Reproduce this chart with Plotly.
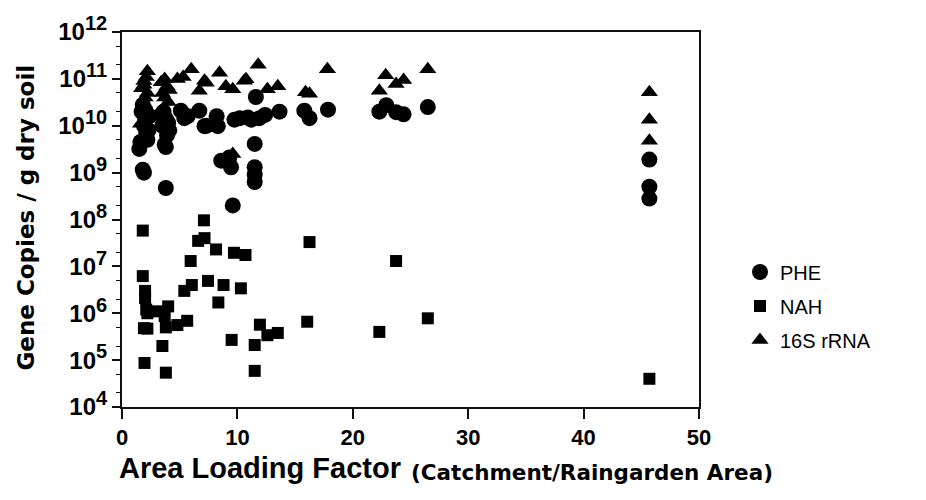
import plotly.graph_objects as go

# Area loading factor (catchment / raingarden area) for each sample, per assay
phe_x = [1.5, 1.8, 1.9, 1.7, 2.0, 1.9, 2.1, 2.2, 1.8, 2.4, 1.6, 2.3, 2.0,
         3.6, 3.8, 3.5, 3.9, 3.7, 3.8, 3.8, 4.0, 3.4, 4.1,
         5.1, 5.4, 5.7, 6.7, 7.15, 7.3, 8.2, 8.3, 8.6, 9.3, 9.45, 9.6,
         9.75, 10.2, 10.9, 11.2, 11.5, 11.5, 11.5, 11.5, 11.6, 11.9, 12.4, 13.65,
         15.8, 16.25, 17.85, 22.3, 22.9, 23.75, 24.4, 26.5, 45.7, 45.7, 45.7]
phe_y = [3.2e9, 1.15e9, 1.0e9, 2.0e10, 1.4e10, 1.0e10, 7.0e9, 5.0e9, 2.8e10, 1.6e10, 4.5e9, 8.0e9, 2.2e10,
         2.0e10, 1.4e10, 1.0e10, 6.3e9, 4.0e9, 3.5e9, 4.7e8, 1.15e10, 1.7e10, 8.0e9,
         2.1e10, 1.45e10, 1.6e10, 2.1e10, 9.8e9, 1.0e10, 1.6e10, 9.8e9, 1.8e9, 2.1e9, 1.3e9, 2.0e8,
         1.35e10, 1.45e10, 1.5e10, 1.35e10, 4.1e9, 1.3e9, 9.0e8, 6.3e8, 4.1e10, 1.45e10, 1.7e10, 2.0e10,
         2.1e10, 1.45e10, 2.2e10, 2.0e10, 2.75e10, 1.95e10, 1.75e10, 2.5e10, 1.9e9, 5.0e8, 2.8e8]

nah_x = [1.8, 1.8, 2.0, 2.0, 2.1, 2.2, 1.9, 2.2, 1.95, 3.05,
         3.5, 3.8, 4.0, 3.7, 3.8, 4.8, 5.65, 5.4, 6.05, 5.95,
         6.6, 7.1, 7.15, 7.45, 8.15, 8.35, 8.8, 9.5, 9.7, 10.3,
         10.7, 11.5, 11.5, 11.95, 12.6, 13.5, 16.05, 16.25, 22.3, 23.75,
         26.5, 45.7]
nah_y = [5.8e7, 6.2e6, 3.0e6, 2.1e6, 1.2e6, 1.0e6, 4.8e5, 4.7e5, 8.7e4, 1.1e6,
         2.0e5, 5.4e4, 1.4e6, 8.7e5, 5.0e5, 5.6e5, 6.9e5, 3.0e6, 4.0e6, 1.3e7,
         3.5e7, 9.6e7, 4.0e7, 4.9e6, 2.3e7, 1.7e6, 4.0e6, 2.7e5, 1.95e7, 3.4e6,
         1.75e7, 2.1e5, 5.9e4, 5.7e5, 3.4e5, 3.8e5, 6.6e5, 3.3e7, 4.0e5, 1.3e7,
         7.8e5, 4.0e4]

rrna_x = [2.2, 1.9, 1.7, 2.0, 1.8, 2.3, 1.6, 2.1, 1.9, 2.2,
          3.7, 3.9, 3.5, 4.0, 3.6, 3.8, 3.4, 4.1, 3.7,
          4.8, 5.3, 6.0, 6.7, 7.15, 7.3, 8.45, 9.0, 9.6, 9.6,
          10.6, 10.75, 11.8, 12.6, 13.5, 15.9, 16.25, 17.8,
          22.3, 22.85, 23.75, 24.4, 26.5, 45.7, 45.7, 45.7]
rrna_y = [1.45e11, 9.0e10, 6.3e10, 4.0e10, 2.5e10, 1.8e10, 1.1e10, 1.1e11, 7.5e10, 5.0e10,
          1.0e11, 7.0e10, 5.0e10, 3.2e10, 2.0e10, 1.25e10, 8.5e10, 5.8e10, 4.0e10,
          1.0e11, 1.1e11, 1.6e11, 5.6e10, 9.1e10, 8.3e10, 1.35e11, 7.0e10, 6.0e10, 2.5e9,
          9.1e10, 9.8e10, 2.0e11, 6.0e10, 7.0e10, 5.2e10, 4.8e10, 1.6e11,
          5.6e10, 1.2e11, 7.8e10, 9.5e10, 1.6e11, 5.2e10, 1.35e10, 4.8e9]

x_ticks = [0, 10, 20, 30, 40, 50]
y_exponents = list(range(4, 13))

fig = go.Figure()
series = [
    ("PHE", phe_x, phe_y, "circle", 16),
    ("NAH", nah_x, nah_y, "square", 12),
    ("16S rRNA", rrna_x, rrna_y, "triangle-up", 15),
]
for name, xs, ys, sym, size in series:
    fig.add_trace(go.Scatter(
        x=xs, y=ys, mode="markers", name=name, legendgroup=name,
        marker=dict(symbol=sym, size=size, color="black", line=dict(width=0)),
    ))

axis_line = dict(showline=True, linewidth=2, linecolor="#111", mirror=True,
                 showgrid=False, zeroline=False, ticks="outside", tickcolor="#111",
                 tickwidth=2)

fig.update_xaxes(
    range=[0, 50], tickvals=x_ticks, ticktext=[f"<b>{v}</b>" for v in x_ticks],
    ticklen=10, tickfont=dict(family="Liberation Sans", size=22, color="black"),
    **axis_line,
)
fig.update_yaxes(
    type="log", range=[4, 12],
    tickvals=[10 ** e for e in y_exponents],
    ticktext=[f"<b>10<sup><span style='font-size:20px'>{e}</span></sup></b>"
              for e in y_exponents],
    ticklen=8,
    tickfont=dict(family="Liberation Sans", size=24, color="black"),
    minor=dict(ticks="outside", ticklen=4, tickwidth=1, tickcolor="#111", showgrid=False),
    **axis_line,
)

# axis titles
fig.add_annotation(
    text="<b>Gene Copies / g dry soil</b>", xref="paper", yref="paper",
    x=(26 - 122) / 577, y=(407 - 212) / 386, xanchor="center", yanchor="middle",
    textangle=-90, showarrow=False,
    font=dict(family="DejaVu Sans", size=23, color="black"),
)
fig.add_annotation(
    text="<b>Area Loading Factor</b>", xref="paper", yref="paper",
    x=(117 - 122) / 577, y=-(470 - 407) / 386, xanchor="left", yanchor="middle",
    showarrow=False, font=dict(family="Liberation Sans", size=29, color="black"),
)
fig.add_annotation(
    text="<b>(Catchment/Raingarden Area)</b>", xref="paper", yref="paper",
    x=(409 - 122) / 577, y=-(474 - 407) / 386, xanchor="left", yanchor="middle",
    showarrow=False, font=dict(family="DejaVu Sans", size=21.5, color="black"),
)

fig.update_layout(
    width=926, height=500,
    margin=dict(l=122, r=227, t=21, b=93),
    paper_bgcolor="white", plot_bgcolor="white",
    font=dict(family="Liberation Sans", color="black"),
    legend=dict(x=(740 - 122) / 577, y=(407 - 248) / 386, xanchor="left", yanchor="top",
                font=dict(family="Liberation Sans", size=20, color="black"),
                tracegroupgap=5, bgcolor="rgba(0,0,0,0)"),
)

fig.write_html("out.html")
